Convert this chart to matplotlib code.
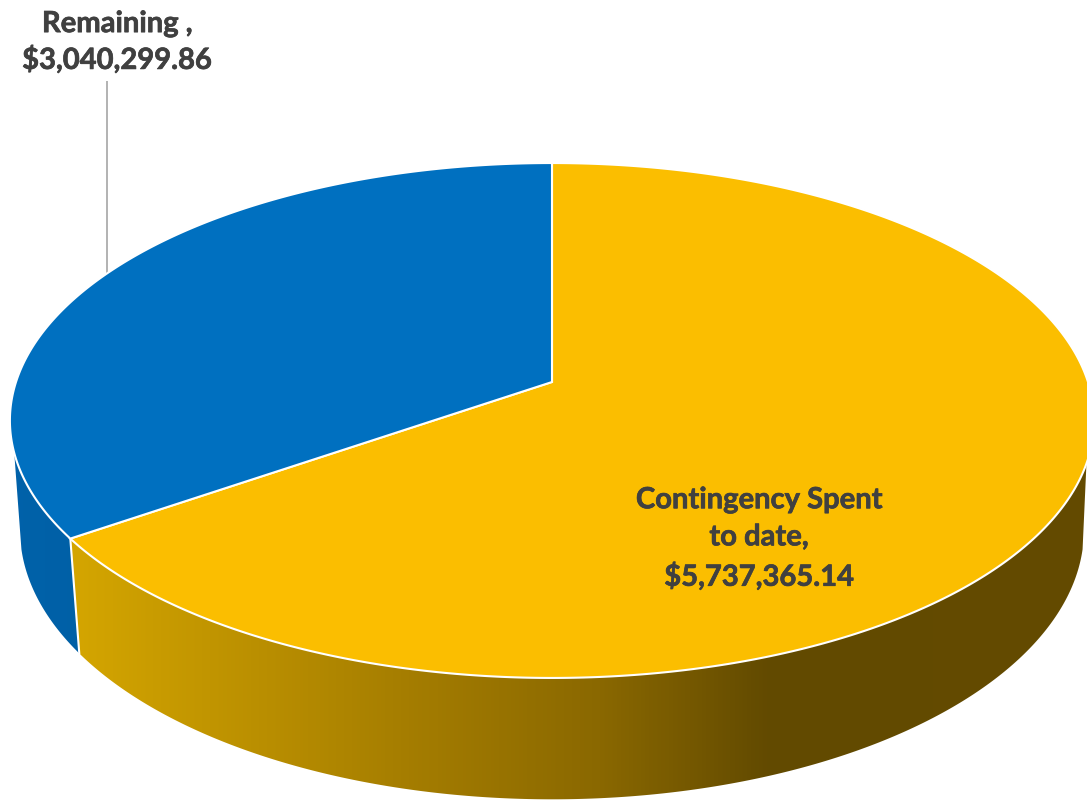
import numpy as np
import matplotlib
matplotlib.use("Agg")
import matplotlib.pyplot as plt
import matplotlib.patheffects as pe
from matplotlib.colors import LinearSegmentedColormap
from matplotlib.patches import Polygon

# Budget split shown by the pie
slice_names = ["Remaining", "Contingency Spent to date"]
slice_values = [3040299.86, 5737365.14]
slice_labels = ["Remaining ,\n$3,040,299.86", "Contingency Spent\nto date,\n$5,737,365.14"]

BLUE = "#0070C0"
GOLD = "#FBBE00"
TEXT = "#404040"
plt.rcParams["font.family"] = ["Lato", "DejaVu Sans"]

W, H = 1087, 800
fig = plt.figure(figsize=(W / 100, H / 100), dpi=100, facecolor="white")
ax = fig.add_axes([0, 0, 1, 1])
ax.set_xlim(0, W)
ax.set_ylim(H, 0)
ax.axis("off")


def disc(theta_deg, a, b, y0, k=0.1495, cx=552.0):
    """Perspective projection of a disc; theta runs clockwise from 12 o'clock."""
    t = np.radians(theta_deg)
    u, v = np.sin(t), np.cos(t)
    d = 1 + k * v
    return np.column_stack([cx + a * u / d, y0 - b * v / d])


def top(theta):
    return disc(theta, 536.0, 251.7, 382.0)


def base(theta):
    return disc(theta, 526.0, 263.5, 489.5)


total = sum(slice_values)
split = 360.0 * slice_values[1] / total  # gold runs clockwise from 12 o'clock to here


def wall(t_top, b_top, colors):
    pts = np.vstack([top(np.linspace(*t_top, 300)), base(np.linspace(*b_top, 300))[::-1]])
    poly = Polygon(pts, closed=True, fc="none", ec="none", transform=ax.transData)
    ax.add_patch(poly)
    x0, x1 = colors[0][0], colors[-1][0]
    cmap = LinearSegmentedColormap.from_list(
        "wall", [((x - x0) / (x1 - x0), c) for x, c in colors]
    )
    img = ax.imshow(np.linspace(0, 1, 1024)[None, :], cmap=cmap, aspect="auto",
                    extent=[x0, x1, H, 0], zorder=1)
    img.set_clip_path(poly)


# Side walls, shaded left to right
wall((108, split), (102.7, split),
     [(60, "#D6A700"), (400, "#A67E00"), (600, "#8A6800"), (770, "#624A00"), (1100, "#644B00")])
wall((split, 254.3), (split, 257.3), [(0, "#0062AA"), (90, "#0060A6")])
ax.set_xlim(0, W)
ax.set_ylim(H, 0)

# Seam between the two walls
corner = np.vstack([top(np.array([split])), base(np.array([split]))])
ax.plot(corner[:, 0], corner[:, 1], color="white", lw=1.5, zorder=2)

# Top faces
centre = [[552.0, 382.0]]
gold_face = np.vstack([centre, top(np.linspace(0, split, 600))])
blue_face = np.vstack([centre, top(np.linspace(split, 360, 400))])
ax.add_patch(Polygon(gold_face, closed=True, fc=GOLD, ec="white", lw=1.5, zorder=3))
ax.add_patch(Polygon(blue_face, closed=True, fc=BLUE, ec="white", lw=1.5, zorder=3))

# Leader line and data labels
ax.plot([107, 107], [81, 273], color="#ADADAD", lw=1.3, zorder=2, solid_capstyle="butt")
heavier = [pe.withStroke(linewidth=0.5, foreground=TEXT)]
ax.text(117, 42.5, slice_labels[0], color=TEXT, fontsize=21, fontweight="bold",
        ha="center", va="center", linespacing=1.375, path_effects=heavier)
ax.text(759, 539, slice_labels[1], color=TEXT, fontsize=21, fontweight="bold",
        ha="center", va="center", linespacing=1.53, zorder=4, path_effects=heavier)

fig.savefig("out.png", dpi=100, facecolor="white")
